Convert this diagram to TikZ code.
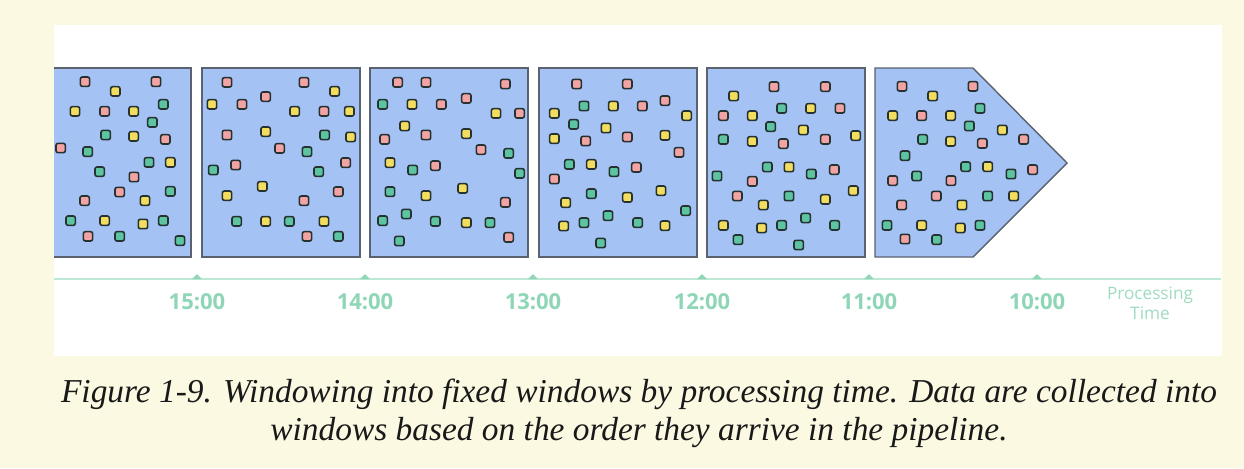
\documentclass[tikz,border=0pt]{standalone}
\usepackage{fontspec}
\setmainfont{Liberation Serif}
\newfontfamily\timefont{Open Sans}
\usetikzlibrary{positioning}

\definecolor{cream}{HTML}{FBF9E2}
\definecolor{winblue}{HTML}{A4C2F4}
\definecolor{winedge}{HTML}{5A6270}
\definecolor{dotP}{HTML}{F2A3A3}
\definecolor{dotY}{HTML}{F3DD5E}
\definecolor{dotG}{HTML}{5CC4A0}
\definecolor{dotedge}{HTML}{263232}
\definecolor{mint}{HTML}{8ED6B6}
\definecolor{mintline}{HTML}{BDE8D5}

\tikzset{
  window/.style={fill=winblue, draw=winedge, line width=0.7pt},
  datum/.style={draw=dotedge, line width=0.8pt, rounded corners=1pt},
  timeline/.style={draw=mintline, line width=0.7pt},
  timelabel/.style={text=mint, font=\timefont\bfseries\fontsize{11}{13}\selectfont},
}

\begin{document}
\begin{tikzpicture}[x=0.5pt, y=-0.5pt]
    % Background and panel
    \fill[cream] (0,0) rectangle (1244,468);
    \fill[white] (54,25) rectangle (1222,356);
    \useasboundingbox (0,0) rectangle (1244,468);

    % Define the windows
    \begin{scope}
        \clip (54,25) rectangle (1222,356);
        \draw[window] (33,68) rectangle (191,257);
    \end{scope}
    \draw[window] (202,68) rectangle (360,257);
    \draw[window] (370,68) rectangle (528,257);
    \draw[window] (539,68) rectangle (697,257);
    \draw[window] (707,68) rectangle (865,257);
    \draw[window] (875,68) -- (973,68) -- (1067,163) -- (973,257) -- (875,257) -- cycle;

    % Data in each window
    \begin{scope}[shift={(54,64)}, scale=1/3]
        \clip (0,-30) rectangle (500,600);
        \foreach \x/\y/\c in {93/53/P, 306/53/P, 184/82/Y, 328/121/G, 63/142/Y, 152/142/P, 239/142/Y, 295/175/G,
            155/213/G, 239/217/Y, 334/226/P, 20/252/P, 101/263/G, 285/295/G, 349/295/Y, 137/323/G, 240/339/P,
            197/384/P, 349/382/G, 92/410/P, 273/410/Y, 50/470/G, 152/470/Y, 267/480/Y, 328/470/G, 102/517/P,
            197/517/G, 378/530/G}
            \draw[datum, fill=dot\c] (\x,\y) +(-14,-14) rectangle +(14,14);
    \end{scope}
    \begin{scope}[shift={(198,64)}, scale=1/3]
        \foreach \x/\y/\c in {87/55/P, 318/55/P, 410/82/Y, 203/98/P, 42/121/Y, 132/121/P, 290/142/Y, 378/142/P,
            454/142/Y, 87/213/P, 203/203/Y, 380/213/G, 458/219/Y, 245/253/P, 327/263/G, 46/318/G, 113/303/P,
            362/323/G, 443/296/P, 193/367/Y, 87/395/Y, 421/383/P, 318/410/P, 116/472/G, 203/472/Y, 274/472/G,
            378/472/Y, 327/517/P, 421/517/G}
            \draw[datum, fill=dot\c] (\x,\y) +(-14,-14) rectangle +(14,14);
    \end{scope}
    \begin{scope}[shift={(366,64)}, scale=1/3]
        \foreach \x/\y/\c in {95/55/P, 180/55/P, 418/60/P, 50/121/G, 138/121/Y, 226/121/P, 301/103/P, 390/148/Y,
            461/148/P, 116/186/Y, 56/226/P, 180/213/P, 301/209/Y, 345/257/P, 428/268/G, 72/296/Y, 140/318/G,
            208/305/P, 461/328/G, 72/383/G, 180/395/Y, 290/373/Y, 418/415/P, 121/450/G, 50/470/G, 208/472/G,
            301/476/Y, 372/476/G, 428/520/P, 100/531/G}
            \draw[datum, fill=dot\c] (\x,\y) +(-14,-14) rectangle +(14,14);
    \end{scope}
    \begin{scope}[shift={(535,64)}, scale=1/3]
        \foreach \x/\y/\c in {125/60/P, 277/60/P, 147/126/G, 235/126/Y, 322/126/P, 390/110/P, 58/148/Y, 455/155/Y,
            116/181/G, 213/192/Y, 58/224/Y, 152/231/P, 277/219/P, 390/214/Y, 432/265/P, 103/301/G, 169/301/Y,
            237/323/G, 304/310/P, 58/345/P, 169/389/G, 277/400/Y, 378/380/Y, 92/416/Y, 452/440/G, 219/455/G,
            86/486/Y, 147/476/G, 308/476/G, 390/485/Y, 197/537/G}
            \draw[datum, fill=dot\c] (\x,\y) +(-14,-14) rectangle +(14,14);
    \end{scope}
    \begin{scope}[shift={(703,64)}, scale=1/3]
        \foreach \x/\y/\c in {213/68/P, 367/68/P, 92/96/Y, 236/133/G, 323/133/Y, 411/133/P, 61/155/P, 148/155/Y,
            203/188/G, 301/198/Y, 61/226/G, 148/232/Y, 241/239/P, 367/226/P, 458/215/Y, 193/309/G, 258/309/Y,
            325/330/G, 394/317/P, 42/336/G, 148/352/P, 103/396/P, 258/396/G, 451/380/Y, 181/423/Y, 367/406/Y,
            308/462/G, 61/484/Y, 176/492/Y, 236/484/G, 395/484/G, 105/527/G, 287/543/G}
            \draw[datum, fill=dot\c] (\x,\y) +(-14,-14) rectangle +(14,14);
    \end{scope}
    \begin{scope}[shift={(871,64)}, scale=1/3]
        \foreach \x/\y/\c in {93/67/P, 306/67/P, 185/96/Y, 327/133/G, 65/155/Y, 152/155/P, 239/155/Y, 295/186/G,
            394/198/Y, 155/226/G, 239/232/Y, 334/238/P, 458/226/P, 102/275/G, 284/308/G, 350/308/Y, 420/330/G,
            485/317/P, 65/350/P, 137/336/G, 240/350/P, 196/396/P, 350/396/G, 428/396/Y, 92/423/P, 273/423/Y,
            48/484/G, 152/484/Y, 268/492/Y, 327/484/G, 102/525/P, 197/527/G}
            \draw[datum, fill=dot\c] (\x,\y) +(-14,-14) rectangle +(14,14);
    \end{scope}

    % Draw the time axis
    \coordinate (axisL) at (54,279);
    \coordinate (axisR) at (1221,279);
    \draw[timeline] (axisL) -- (axisR);
    \foreach \t/\x in {15/197, 14/365, 13/533, 12/702, 11/869, 10/1037} {
        \fill[mint] (\x-5,279) -- (\x,274) -- (\x+5,279) -- cycle;
        \node[timelabel] (t\t) at (\x,302) {\t:00};
    }
    \node[text=mint!85, font=\timefont\fontsize{8.6}{10}\selectfont, align=center] (ptime) at (1150,303) {Processing\\Time};

    % Caption
    \node[font=\itshape\fontsize{16.7}{19}\selectfont, text=black!90, align=center] (caption) at (639,413)
        {Figure 1-9. Windowing into fixed windows by processing time. Data are collected into\\
         windows based on the order they arrive in the pipeline.};
\end{tikzpicture}
\end{document}
